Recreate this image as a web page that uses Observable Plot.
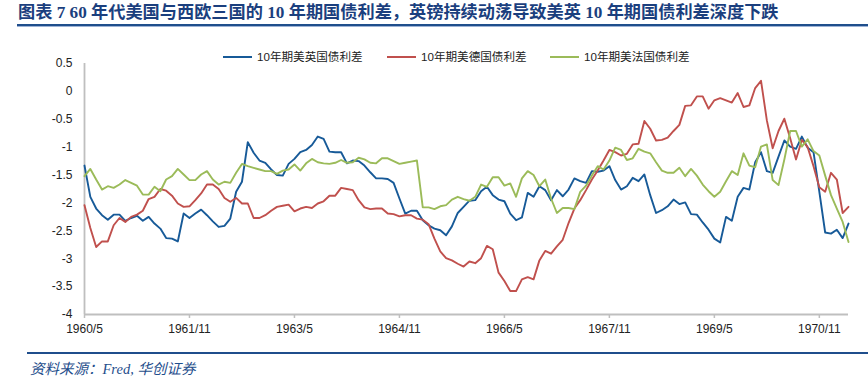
<!DOCTYPE html>
<html>
<head>
<meta charset="utf-8">
<script src="https://cdn.jsdelivr.net/npm/d3@7"></script>
<script src="https://cdn.jsdelivr.net/npm/@observablehq/plot@0.6"></script>
<style>
  html, body { margin: 0; padding: 0; background: #fff; }
  #wrap { position: relative; width: 868px; height: 385px; overflow: hidden; }
  #title { position: absolute; left: 18px; top: 3px; font-family: "Liberation Serif", "Noto Sans CJK SC", serif; font-weight: bold; font-size: 17.2px; color: #1b3f7e; white-space: nowrap; line-height: 20px; }
  #titleRule { position: absolute; left: 17px; right: 0; top: 24px; height: 2px; background: #1f4e8c; border-bottom: 1px solid #9db3d6; }
  #chart { position: absolute; left: 0; top: 40px; }
  #legend { position: absolute; left: 0; top: 49px; width: 868px; height: 16px; font-family: "Liberation Sans", "Noto Sans CJK SC", sans-serif; font-size: 11.6px; color: #222; white-space: nowrap; }
  #legend .sw { position: absolute; top: 7px; width: 29px; height: 2px; }
  #legend .tx { position: absolute; top: 0; line-height: 16px; }
  #capRule { position: absolute; left: 27px; right: 0; top: 352px; height: 2px; background: #1f4e8c; }
  #caption { position: absolute; left: 30px; top: 357px; font-family: "Liberation Serif", "Noto Sans CJK SC", serif; font-style: italic; font-size: 14.5px; color: #1f4e8c; white-space: nowrap; }
</style>
</head>
<body>
<div id="wrap">
  <div id="title">图表 7 60 年代美国与西欧三国的 10 年期国债利差，英镑持续动荡导致美英 10 年期国债利差深度下跌</div>
  <div id="titleRule"></div>
  <div id="chart"></div>
  <div id="legend"></div>
  <div id="capRule"></div>
  <div id="caption">资料来源：Fred, 华创证券</div>
</div>
<script>
// Monthly categories 1960/5 .. 1971/4
const startYear = 1960, startMonth = 5, nMonths = 132;
const months = d3.range(nMonths).map(i => {
  const m = startMonth - 1 + i;
  return `${startYear + Math.floor(m / 12)}/${(m % 12) + 1}`;
});
const tickLabels = ["1960/5", "1961/11", "1963/5", "1964/11", "1966/5", "1967/11", "1969/5", "1970/11"];
const yTicks = [0.5, 0, -0.5, -1, -1.5, -2, -2.5, -3, -3.5, -4];

const seriesNames = ["10年期美英国债利差", "10年期美德国债利差", "10年期美法国债利差"];
const seriesColors = ["#175a98", "#c0504d", "#9bbb59"];

const usUK = [-1.33,-1.89,-2.10,-2.22,-2.30,-2.21,-2.21,-2.32,-2.27,-2.23,-2.32,-2.25,-2.37,-2.46,-2.63,-2.64,-2.69,-2.19,-2.27,-2.19,
  -2.12,-2.22,-2.33,-2.43,-2.41,-2.28,-1.80,-1.62,-0.91,-1.10,-1.24,-1.28,-1.40,-1.50,-1.51,-1.30,-1.21,-1.09,-1.05,-0.96,
  -0.81,-0.85,-1.08,-1.09,-1.09,-1.29,-1.24,-1.25,-1.33,-1.45,-1.56,-1.56,-1.57,-1.64,-1.92,-2.19,-2.14,-2.14,-2.31,-2.40,
  -2.46,-2.49,-2.58,-2.42,-2.18,-2.07,-1.96,-1.95,-1.79,-1.71,-1.86,-1.94,-1.97,-2.19,-2.31,-2.26,-1.82,-1.89,-1.70,-1.77,
  -1.95,-1.77,-1.88,-1.76,-1.56,-1.61,-1.64,-1.43,-1.44,-1.42,-1.34,-1.59,-1.76,-1.70,-1.55,-1.61,-1.49,-1.86,-2.18,-2.13,
  -2.06,-1.94,-2.02,-1.99,-2.20,-2.21,-2.35,-2.48,-2.64,-2.71,-2.25,-2.32,-1.89,-1.73,-1.76,-1.27,-1.09,-1.43,-1.46,-1.17,
  -0.88,-0.99,-1.03,-0.81,-1.01,-1.09,-1.80,-2.53,-2.55,-2.48,-2.63,-2.37];

const usDE = [-2.04,-2.45,-2.79,-2.69,-2.69,-2.40,-2.27,-2.34,-2.25,-2.21,-2.14,-1.93,-1.89,-1.75,-1.78,-1.87,-2.01,-2.07,-2.06,-1.95,
  -1.83,-1.67,-1.67,-1.75,-1.91,-1.98,-1.91,-2.01,-2.01,-2.27,-2.27,-2.22,-2.14,-2.07,-2.05,-2.03,-2.15,-2.10,-2.07,-2.09,
  -2.01,-1.97,-1.87,-1.87,-1.73,-1.75,-1.77,-1.95,-2.08,-2.11,-2.10,-2.10,-2.19,-2.20,-2.24,-2.22,-2.22,-2.28,-2.30,-2.38,
  -2.64,-2.87,-2.99,-3.03,-3.09,-3.14,-3.05,-3.08,-2.99,-2.77,-2.83,-3.25,-3.40,-3.58,-3.58,-3.37,-3.33,-3.37,-3.03,-2.86,
  -2.91,-2.78,-2.66,-2.36,-2.10,-1.95,-1.77,-1.58,-1.42,-1.24,-1.05,-1.09,-1.15,-1.12,-0.95,-0.94,-0.53,-0.67,-0.88,-0.87,
  -0.83,-0.71,-0.60,-0.26,-0.25,-0.09,-0.09,-0.31,-0.16,-0.12,-0.16,-0.20,-0.03,-0.28,-0.25,0.06,0.19,-0.52,-1.02,-0.71,
  -0.49,-0.84,-1.22,-0.87,-1.00,-1.34,-1.72,-1.80,-1.46,-1.58,-2.18,-2.07];

const usFR = [-1.52,-1.39,-1.58,-1.76,-1.70,-1.73,-1.67,-1.59,-1.64,-1.69,-1.85,-1.85,-1.71,-1.79,-1.58,-1.52,-1.39,-1.49,-1.59,-1.59,
  -1.49,-1.43,-1.58,-1.67,-1.62,-1.64,-1.46,-1.30,-1.34,-1.37,-1.40,-1.43,-1.43,-1.48,-1.42,-1.40,-1.31,-1.42,-1.29,-1.21,
  -1.27,-1.29,-1.30,-1.28,-1.23,-1.28,-1.27,-1.19,-1.22,-1.28,-1.29,-1.20,-1.20,-1.25,-1.30,-1.28,-1.26,-1.24,-2.08,-2.08,
  -2.11,-2.06,-2.04,-1.94,-1.89,-1.93,-1.96,-1.89,-1.67,-1.71,-1.54,-1.54,-1.69,-1.65,-1.89,-1.56,-1.43,-1.50,-1.70,-1.58,
  -1.92,-2.18,-2.09,-2.09,-2.11,-1.80,-1.69,-1.51,-1.34,-1.40,-1.24,-1.01,-1.05,-1.23,-1.20,-1.03,-1.08,-1.11,-1.27,-1.42,
  -1.46,-1.46,-1.37,-1.52,-1.39,-1.51,-1.67,-1.79,-1.89,-1.80,-1.61,-1.43,-1.50,-1.11,-1.33,-1.36,-0.99,-0.95,-1.59,-1.68,
  -1.22,-0.71,-0.71,-0.99,-0.86,-1.07,-1.15,-1.51,-1.86,-2.10,-2.34,-2.70];

const seriesValues = [usUK, usDE, usFR];
const rows = seriesValues.flatMap((vals, s) => vals.map((v, i) => ({month: months[i], value: v, series: seriesNames[s]})));

const chart = Plot.plot({
  width: 868,
  height: 300,
  marginLeft: 84,
  marginRight: 20,
  marginTop: 23,
  marginBottom: 26,
  style: {fontFamily: "'Liberation Sans','Noto Sans CJK SC',sans-serif", fontSize: "12px", color: "#222", background: "transparent"},
  x: {type: "point", domain: months, padding: 0},
  y: {domain: [-4, 0.5]},
  color: {domain: seriesNames, range: seriesColors},
  marks: [
    Plot.ruleY([-4], {stroke: "#bfbfbf", strokeWidth: 1.8}),
    Plot.ruleX([months[0]], {stroke: "#bfbfbf", strokeWidth: 1.8}),
    Plot.axisY({ticks: yTicks, tickSize: 0, tickPadding: 12, tickFormat: d => String(d), fontSize: 12, label: null}),
    Plot.axisX({ticks: tickLabels, tickSize: 4, tickPadding: 6, stroke: "#bfbfbf", strokeWidth: 1.5, fontSize: 12, label: null}),
    Plot.line(rows, {x: "month", y: "value", z: "series", stroke: "series", strokeWidth: 1.9, strokeLinejoin: "round"})
  ]
});
document.getElementById("chart").appendChild(chart);

// legend placed to match the reference positions
const legendSwatchX = [223, 387, 550];
const legend = document.getElementById("legend");
seriesNames.forEach((name, i) => {
  const sw = document.createElement("div");
  sw.className = "sw";
  sw.style.left = legendSwatchX[i] + "px";
  sw.style.background = seriesColors[i];
  const tx = document.createElement("span");
  tx.className = "tx";
  tx.style.left = (legendSwatchX[i] + 34) + "px";
  tx.textContent = name;
  legend.appendChild(sw);
  legend.appendChild(tx);
});
</script>
</body>
</html>
